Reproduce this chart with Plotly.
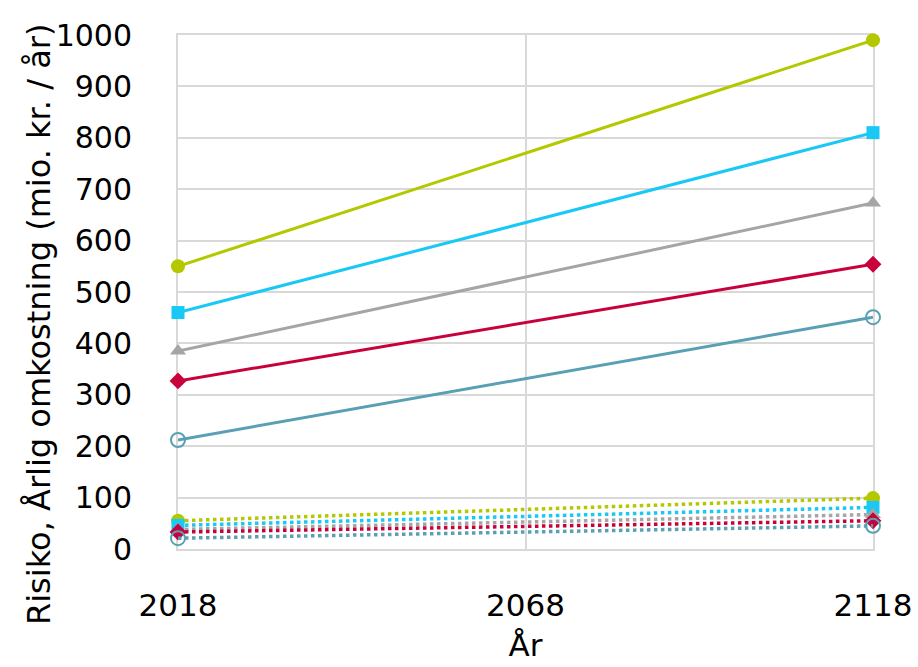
import plotly.graph_objects as go

# Years on the x axis
years = [2018, 2118]

# Annual risk cost (mio. kr. / år), main scenarios
green_solid = [550, 990]
cyan_solid = [460, 810]
gray_solid = [385, 673]
red_solid = [327, 554]
teal_solid = [212, 451]

# Dotted companion series
green_dot = [55, 99]
cyan_dot = [46, 81]
gray_dot = [38, 67]
red_dot = [33, 55]
teal_dot = [21, 45]

tick_years = [2018, 2068, 2118]
tick_values = list(range(0, 1001, 100))

GREEN = "#B4C800"
CYAN = "#19C8F5"
GRAY = "#A5A5A5"
RED = "#C8003C"
TEAL = "#5AA0B4"
GRID = "#D9D9D9"

series = [
    (green_solid, green_dot, GREEN, dict(symbol="circle", size=14)),
    (cyan_solid, cyan_dot, CYAN, dict(symbol="square", size=13)),
    (gray_solid, gray_dot, GRAY, dict(symbol="triangle-up", size=14)),
    (red_solid, red_dot, RED, dict(symbol="diamond", size=13)),
    (teal_solid, teal_dot, TEAL, dict(symbol="circle-open", size=14, line=dict(width=2))),
]

fig = go.Figure()

# Dotted series first so the solid ones sit on top
for solid, dotted, color, mk in series:
    fig.add_trace(go.Scatter(
        x=years, y=dotted, mode="lines+markers",
        line=dict(color=color, width=3.5, dash="dot"),
        marker=dict(color=color, **mk),
        cliponaxis=False, showlegend=False,
    ))

for solid, dotted, color, mk in series:
    fig.add_trace(go.Scatter(
        x=years, y=solid, mode="lines+markers",
        line=dict(color=color, width=3),
        marker=dict(color=color, **mk),
        cliponaxis=False, showlegend=False,
    ))

font_family = "DejaVu Sans, Verdana, sans-serif"

L, R, T, B = 178, 45, 35, 118
W, H = 918, 667
plot_w = W - L - R
plot_h = H - T - B

fig.update_layout(
    width=W, height=H,
    margin=dict(l=L, r=R, t=T, b=B),
    paper_bgcolor="white", plot_bgcolor="white",
    font=dict(family=font_family, size=30, color="black"),
    showlegend=False,
)

fig.update_xaxes(
    range=[2018, 2118],
    tickvals=tick_years,
    ticktext=[str(y) for y in tick_years],
    showgrid=True, gridcolor=GRID, gridwidth=2,
    zeroline=False,
    showline=True, linecolor=GRID, linewidth=2, mirror=True,
    layer="below traces",
    automargin=False,
    ticks="", ticklabelstandoff=28,
    tickfont=dict(size=31),
    title=dict(text="År", font=dict(size=31), standoff=12),
)

fig.update_yaxes(
    range=[0, 1000],
    tickvals=tick_values,
    showgrid=True, gridcolor=GRID, gridwidth=2,
    zeroline=False,
    showline=True, linecolor=GRID, linewidth=2, mirror=True,
    layer="below traces",
    automargin=False,
    ticks="", ticklabelstandoff=38,
    tickfont=dict(size=30),
)

# Y axis title, centred on the full chart height
fig.add_annotation(
    text="Risiko, Årlig omkostning (mio. kr. / år)",
    textangle=-90,
    xref="paper", yref="paper",
    x=(39 - L) / plot_w, y=(H - B - 325) / plot_h,
    xanchor="center", yanchor="middle",
    showarrow=False,
    font=dict(size=32),
)

fig.write_html("out.html")
